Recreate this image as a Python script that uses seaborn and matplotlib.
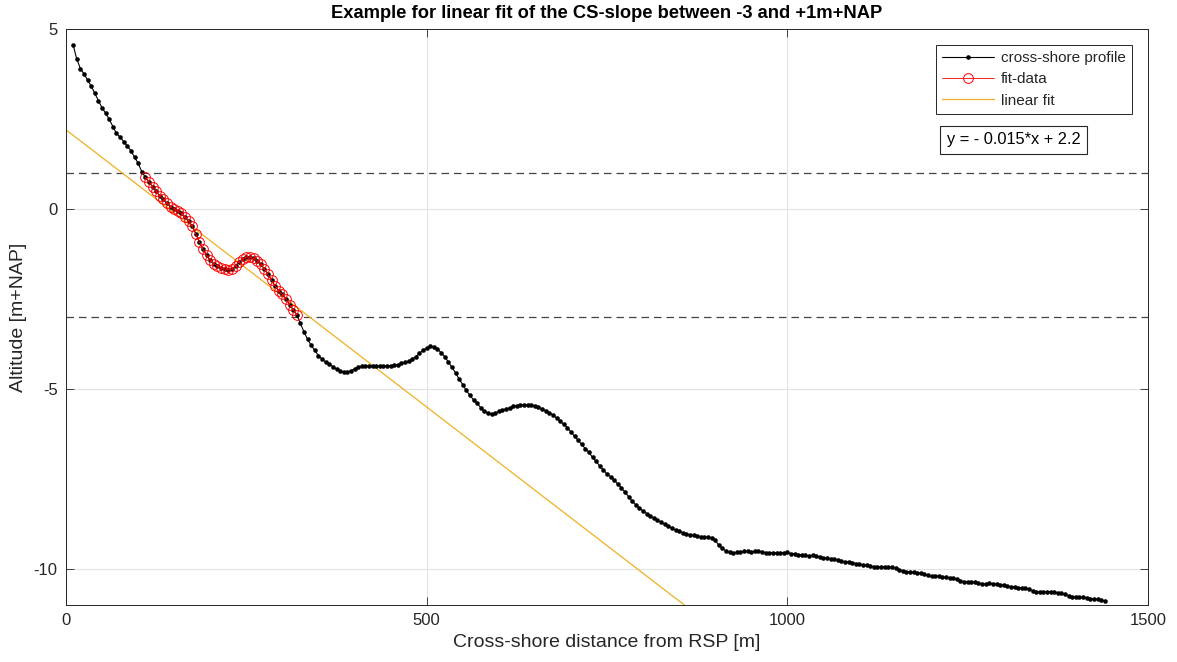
import numpy as np
import pandas as pd
import matplotlib
matplotlib.use("Agg")
import matplotlib.pyplot as plt
import seaborn as sns

# ---- data ----
x_start, x_step = 10, 5
altitude = [
    4.55, 4.16, 3.90, 3.75, 3.58, 3.41, 3.21, 3.01, 2.81, 2.66,
    2.49, 2.29, 2.10, 2.00, 1.87, 1.75, 1.62, 1.44, 1.27, 1.04,
    0.88, 0.75, 0.62, 0.49, 0.37, 0.27, 0.16, 0.06, 0.00, -0.05,
    -0.12, -0.23, -0.33, -0.48, -0.69, -0.92, -1.12, -1.29, -1.43, -1.52,
    -1.58, -1.63, -1.67, -1.69, -1.67, -1.58, -1.47, -1.38, -1.34, -1.33,
    -1.37, -1.44, -1.53, -1.67, -1.81, -1.98, -2.14, -2.27, -2.37, -2.49,
    -2.66, -2.80, -2.94, -3.18, -3.42, -3.62, -3.79, -3.93, -4.07, -4.17,
    -4.25, -4.31, -4.38, -4.45, -4.51, -4.54, -4.53, -4.49, -4.44, -4.39,
    -4.37, -4.36, -4.36, -4.36, -4.36, -4.36, -4.36, -4.36, -4.35, -4.34,
    -4.32, -4.29, -4.26, -4.22, -4.17, -4.10, -4.01, -3.92, -3.86, -3.81,
    -3.83, -3.89, -3.99, -4.10, -4.25, -4.40, -4.55, -4.72, -4.88, -5.04,
    -5.18, -5.30, -5.40, -5.52, -5.62, -5.67, -5.70, -5.67, -5.62, -5.58,
    -5.56, -5.52, -5.48, -5.46, -5.45, -5.44, -5.44, -5.44, -5.47, -5.50,
    -5.55, -5.60, -5.66, -5.72, -5.80, -5.89, -5.98, -6.07, -6.19, -6.31,
    -6.43, -6.54, -6.66, -6.76, -6.90, -7.01, -7.14, -7.25, -7.36, -7.44,
    -7.53, -7.64, -7.75, -7.86, -7.99, -8.12, -8.22, -8.31, -8.39, -8.46,
    -8.53, -8.58, -8.64, -8.70, -8.76, -8.81, -8.86, -8.92, -8.95, -8.99,
    -9.03, -9.05, -9.06, -9.08, -9.10, -9.11, -9.12, -9.14, -9.20, -9.34,
    -9.43, -9.50, -9.54, -9.55, -9.54, -9.52, -9.51, -9.51, -9.52, -9.51,
    -9.51, -9.52, -9.55, -9.55, -9.55, -9.55, -9.55, -9.55, -9.54, -9.57,
    -9.58, -9.60, -9.60, -9.61, -9.64, -9.62, -9.64, -9.67, -9.69, -9.70,
    -9.71, -9.73, -9.75, -9.78, -9.80, -9.81, -9.82, -9.85, -9.87, -9.88,
    -9.90, -9.93, -9.94, -9.94, -9.94, -9.94, -9.94, -9.95, -9.98, -10.02,
    -10.05, -10.09, -10.08, -10.09, -10.10, -10.12, -10.14, -10.18, -10.20, -10.19,
    -10.19, -10.22, -10.23, -10.24, -10.25, -10.28, -10.32, -10.35, -10.35, -10.35,
    -10.36, -10.38, -10.42, -10.41, -10.40, -10.41, -10.42, -10.44, -10.45, -10.47,
    -10.49, -10.49, -10.52, -10.53, -10.53, -10.56, -10.60, -10.63, -10.63, -10.63,
    -10.63, -10.63, -10.64, -10.66, -10.68, -10.70, -10.74, -10.77, -10.78, -10.78,
    -10.79, -10.81, -10.82, -10.83, -10.84, -10.86, -10.89,
]
distance = x_start + x_step * np.arange(len(altitude))

fit_lower, fit_upper = -3.0, 1.0
fit_slope, fit_intercept = -0.0154, 2.2
fit_text = "y = - 0.015*x + 2.2"
fit_x_range = [0, 1500]

x_ticks = [0, 500, 1000, 1500]
y_ticks = [-10, -5, 0, 5]
title = "Example for linear fit of the CS-slope between -3 and +1m+NAP"
xlabel = "Cross-shore distance from RSP [m]"
ylabel = "Altitude [m+NAP]"
legend_labels = ["cross-shore profile", "fit-data", "linear fit"]

# ---- style ----
sns.set_theme(style="white")
plt.rcParams["font.family"] = ["Liberation Sans", "DejaVu Sans"]
plt.rcParams["axes.unicode_minus"] = False

df = pd.DataFrame({"x": distance, "y": altitude})
fit_df = df[(df["y"] >= fit_lower) & (df["y"] <= fit_upper)]
line_df = pd.DataFrame({"x": fit_x_range,
                        "y": [fit_slope * v + fit_intercept for v in fit_x_range]})

fig = plt.figure(figsize=(11.77, 6.62), dpi=100)
ax = fig.add_axes([66 / 1177, 1 - 605 / 662, (1148 - 66) / 1177, (605 - 29) / 662])

ax.grid(True, color="#e3e3e3", linewidth=0.8)
ax.set_axisbelow(True)

ax.axhline(fit_upper, color="#444444", linestyle=(0, (6, 4)), linewidth=0.9, zorder=1)
ax.axhline(fit_lower, color="#444444", linestyle=(0, (6, 4)), linewidth=0.9, zorder=1)

sns.lineplot(data=df, x="x", y="y", ax=ax, color="black", linewidth=0.8,
             marker="o", markersize=3.3, markeredgewidth=0, sort=False,
             estimator=None, label=legend_labels[0], zorder=3)
sns.lineplot(data=fit_df, x="x", y="y", ax=ax, color="#ff0000", linewidth=0.6,
             marker="o", markersize=7, markerfacecolor="none",
             markeredgecolor="#ff0000", markeredgewidth=0.7, sort=False,
             estimator=None, label=legend_labels[1], zorder=4)
sns.lineplot(data=line_df, x="x", y="y", ax=ax, color="#EDB120", linewidth=0.9,
             sort=False, estimator=None, label=legend_labels[2], zorder=2)

ax.set_xlim(0, 1500)
ax.set_ylim(-11, 5)
ax.set_xticks(x_ticks)
ax.set_yticks(y_ticks)
ax.tick_params(direction="in", length=6, width=0.6, colors="#262626",
               labelsize=12, top=True, right=True, bottom=True, left=True, pad=6)
for s in ax.spines.values():
    s.set_color("#262626")
    s.set_linewidth(0.7)

ax.set_xlabel(xlabel, fontsize=14, color="#262626", labelpad=4)
ax.set_ylabel(ylabel, fontsize=14, color="#262626", labelpad=5)
ax.set_title(title, fontsize=13.2, fontweight="bold", color="black", pad=8)

handles, labels = ax.get_legend_handles_labels()
leg = ax.legend(handles, labels, loc="upper right", bbox_to_anchor=(0.9852, 0.9722),
                borderaxespad=0, fontsize=11, frameon=True, fancybox=False,
                edgecolor="#262626", framealpha=1, borderpad=0.4,
                handlelength=3.4, labelspacing=0.48, handletextpad=0.45)
leg.get_frame().set_linewidth(0.7)

ax.text(0.814, 0.808, fit_text, transform=ax.transAxes, fontsize=11.8,
        ha="left", va="center", color="black", zorder=10,
        bbox=dict(boxstyle="square,pad=0.4", facecolor="white",
                  edgecolor="#262626", linewidth=0.8))

fig.savefig("out.png", dpi=100)
